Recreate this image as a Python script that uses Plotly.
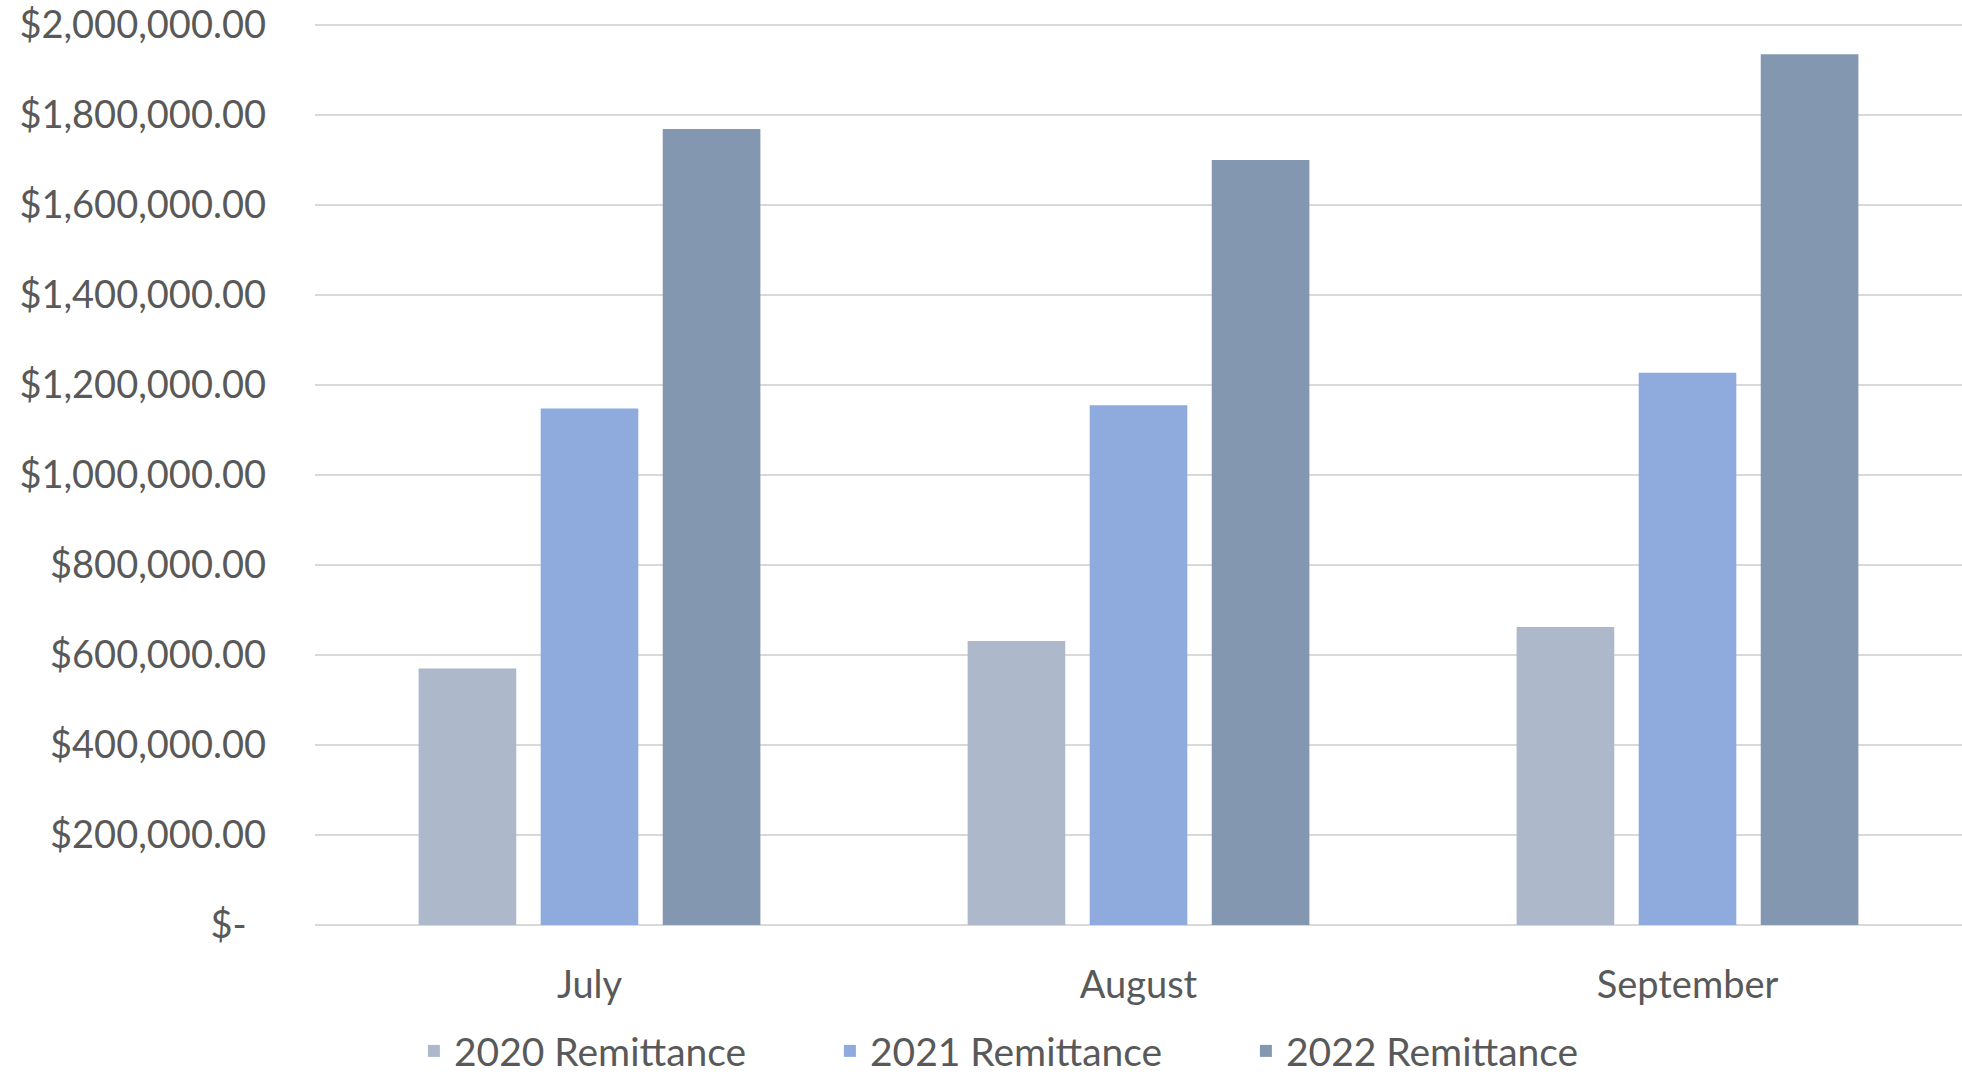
import plotly.graph_objects as go

months = ["July", "August", "September"]
series_names = ["2020 Remittance", "2021 Remittance", "2022 Remittance"]
values_2020 = [570000, 631000, 662000]
values_2021 = [1148000, 1155000, 1227000]
values_2022 = [1769000, 1700000, 1935000]
colors = ["#adb9ca", "#8faadc", "#8497b0"]
tick_values = [0, 200000, 400000, 600000, 800000, 1000000, 1200000,
               1400000, 1600000, 1800000, 2000000]


def money(v):
    if v == 0:
        return "$-\u00a0\u00a0"
    return "${:,.2f}".format(v)


tick_text = [money(v) for v in tick_values]

FONT = "Lato"
TXT = "#595959"
FS = 38
FS_LEG = 39

# plot area: 0 at y=925, 2M at y=25; range slightly extended so the top gridline shows
y_top = 2000000 * 902 / 900

fig = go.Figure()
for name, vals, col in zip(series_names, [values_2020, values_2021, values_2022], colors):
    fig.add_trace(go.Bar(x=months, y=vals, name=name, marker=dict(color=col, line=dict(width=0))))

fig.update_layout(
    width=1962, height=1076,
    margin=dict(l=315, r=0, t=23, b=151, autoexpand=False),
    paper_bgcolor="white", plot_bgcolor="white",
    barmode="group", bargap=0.333, bargroupgap=0.2,
    font=dict(family=FONT, color=TXT, size=FS),
    showlegend=True,
    legend=dict(orientation="h", xref="container", yref="container",
                x=0.529, xanchor="center", y=0.0232, yanchor="middle",
                font=dict(family=FONT, size=FS_LEG, color=TXT),
                entrywidth=371, itemclick=False, itemdoubleclick=False),
    xaxis=dict(showgrid=False, showline=False, zeroline=False, ticks="",
               automargin=False,
               tickfont=dict(family=FONT, size=FS, color=TXT), ticklabelstandoff=34),
    yaxis=dict(range=[0, y_top], tickvals=tick_values, ticktext=tick_text,
               showgrid=True, gridcolor="#d9d9d9", gridwidth=2,
               zeroline=True, zerolinecolor="#d9d9d9", zerolinewidth=2,
               showline=False, ticks="", automargin=False, ticklabeloverflow="allow",
               tickfont=dict(family=FONT, size=FS, color=TXT), ticklabelstandoff=48),
)

fig.write_html("out.html", config={"displayModeBar": False},
               post_script="document.body.style.margin='0';document.body.style.overflow='hidden';")
